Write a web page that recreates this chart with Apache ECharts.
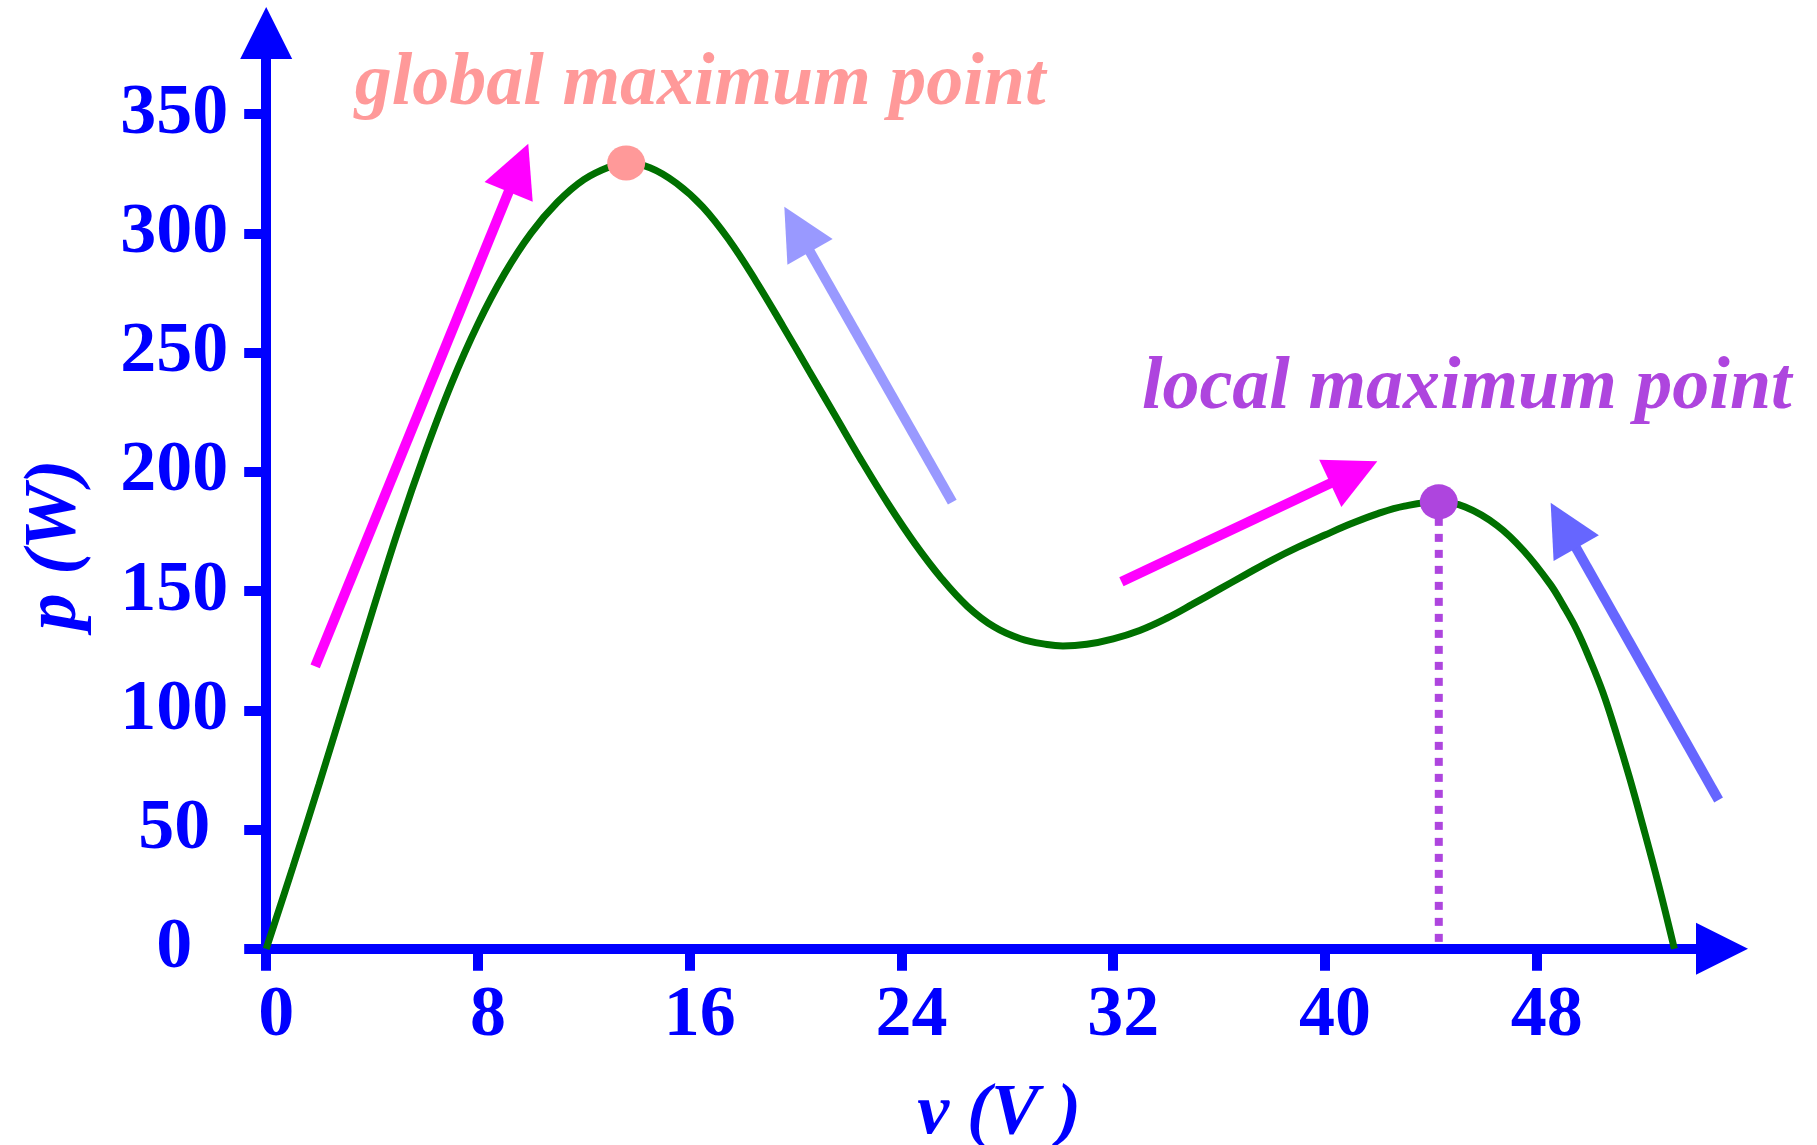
<!DOCTYPE html>
<html>
<head>
<meta charset="utf-8">
<title>P-V curve with global and local maximum</title>
<script src="https://cdn.jsdelivr.net/npm/echarts@6/dist/echarts.min.js"></script>
<style>
  html, body { margin: 0; padding: 0; background: #ffffff; }
  #chart { width: 1817px; height: 1145px; }
</style>
</head>
<body>
<div id="chart"></div>
<script>
// P-V characteristic (voltage in V, power in W)
const voltage = [0, 1, 2, 3, 4, 5, 6, 7, 8, 9, 10, 11, 12, 13, 13.6, 14.5, 15.5, 16.5, 17.5, 18.5,
  19.5, 20.5, 21.5, 22.5, 23.5, 24.5, 25.5, 26.5, 27.5, 28.5, 29.5, 30.1, 31, 32, 33, 34, 35, 36,
  37, 38, 39, 40, 41, 42, 43, 44.3, 45.3, 46.5, 47.5, 48.5, 49, 49.5, 50, 50.5, 51, 51.5, 52, 52.6, 53.2];
const power = [0, 34, 69, 105, 141, 176, 208, 237, 262, 283, 300, 313, 322.5, 328, 329.5, 327.5, 321, 311, 297, 280,
  261.5, 242.5, 223.5, 204.5, 186.5, 170, 155.5, 143.5, 135, 130, 127.6, 127, 127.7, 130, 133.5, 138.5, 144.5, 150.7,
  156.9, 163, 168.5, 173.5, 178.3, 182.5, 185.6, 187.4, 185.2, 177.5, 167, 153, 144, 134, 121.5, 107.5, 90.5, 72, 52, 27, 0];

// axis ticks
const xTicks = [0, 8, 16, 24, 32, 40, 48];
const yTicks = [0, 50, 100, 150, 200, 250, 300, 350];

// maximum power points
const globalMax = [13.6, 329.5];
const localMax = [44.3, 187.4];

// tracking direction arrows: [tail, head]
const arrowClimbGlobal = [[1.85, 118.4], [9.53, 327.5]];
const arrowBackGlobal = [[25.92, 187.3], [20.06, 301.7]];
const arrowClimbLocal = [[32.31, 153.9], [41.09, 199.8]];
const arrowBackLocal = [[54.87, 62.4], [49.01, 177.5]];

const BLUE = '#0000ff';
const SERIF = '"Liberation Serif", "Times New Roman", serif';

const curve = voltage.map((v, i) => [v, power[i]]);

const chart = echarts.init(document.getElementById('chart'), null, { renderer: 'canvas' });

chart.setOption({
  animation: false,
  backgroundColor: '#ffffff',
  grid: { left: 266.2, right: 95, top: 33, bottom: 196.2, outerBoundsMode: 'none' },
  xAxis: {
    type: 'value',
    min: 0,
    max: 55,
    name: 'v (V )',
    nameLocation: 'middle',
    nameGap: 166,
    nameTextStyle: {
      fontFamily: SERIF, fontSize: 72, fontStyle: 'italic', fontWeight: 'bold',
      color: BLUE, align: 'center', verticalAlign: 'middle', padding: [0, 0, 0, 10]
    },
    axisLine: {
      show: true,
      symbol: ['none', 'triangle'],
      symbolSize: [52, 52],
      lineStyle: { color: BLUE, width: 10 }
    },
    axisTick: { show: true, length: 22, customValues: xTicks, lineStyle: { color: BLUE, width: 10 } },
    axisLabel: {
      customValues: xTicks,
      margin: 68,
      verticalAlign: 'middle',
      padding: [0, 0, 0, 20],
      fontFamily: SERIF, fontSize: 72, fontWeight: 'bold', color: BLUE
    },
    splitLine: { show: false }
  },
  yAxis: {
    type: 'value',
    min: 0,
    max: 384,
    name: 'p (W)',
    nameLocation: 'middle',
    nameRotate: 90,
    nameGap: 210,
    nameTextStyle: {
      fontFamily: SERIF, fontSize: 74, fontStyle: 'italic', fontWeight: 'bold',
      color: BLUE, align: 'center', verticalAlign: 'middle', padding: [0, 108, 0, 0]
    },
    axisLine: {
      show: true,
      symbol: ['none', 'triangle'],
      symbolSize: [52, 52],
      lineStyle: { color: BLUE, width: 10 }
    },
    axisTick: { show: true, length: 22, customValues: yTicks, lineStyle: { color: BLUE, width: 10 } },
    axisLabel: {
      customValues: yTicks,
      margin: 92,
      align: 'center',
      fontFamily: SERIF, fontSize: 72, fontWeight: 'bold', color: BLUE
    },
    splitLine: { show: false }
  },
  series: [
    {
      name: 'drop line',
      type: 'line',
      data: [localMax, [localMax[0], 0]],
      showSymbol: false,
      lineStyle: { color: '#ae45de', width: 8, type: [8, 8], cap: 'butt' },
      z: 2
    },
    {
      name: 'P-V curve',
      type: 'line',
      data: curve,
      showSymbol: false,
      smooth: 0.4,
      lineStyle: { color: '#007000', width: 7 },
      z: 3
    },
    {
      name: 'tracking arrows',
      type: 'lines',
      coordinateSystem: 'cartesian2d',
      symbol: ['none', 'triangle'],
      symbolSize: [0, 52],
      lineStyle: { width: 10, opacity: 1, curveness: 0 },
      data: [
        { coords: arrowClimbGlobal, lineStyle: { color: '#ff00ff' } },
        { coords: arrowBackGlobal, lineStyle: { color: '#9999ff' } },
        { coords: arrowClimbLocal, lineStyle: { color: '#ff00ff' } },
        { coords: arrowBackLocal, lineStyle: { color: '#6666ff' } }
      ],
      z: 4
    },
    {
      name: 'global maximum',
      type: 'scatter',
      data: [globalMax],
      symbol: 'circle',
      symbolSize: [38, 35],
      itemStyle: { color: '#ff9999', opacity: 1 },
      label: {
        show: true,
        formatter: 'global maximum point',
        position: 'inside',
        offset: [74, -78],
        opacity: 1,
        fontFamily: SERIF, fontSize: 74, fontStyle: 'italic', fontWeight: 'bold', color: '#ff9999'
      },
      z: 5
    },
    {
      name: 'local maximum',
      type: 'scatter',
      data: [localMax],
      symbol: 'circle',
      symbolSize: [38, 35],
      itemStyle: { color: '#ae45de', opacity: 1 },
      label: {
        show: true,
        formatter: 'local maximum point',
        position: 'inside',
        offset: [28, -113],
        opacity: 1,
        fontFamily: SERIF, fontSize: 74, fontStyle: 'italic', fontWeight: 'bold', color: '#ae45de'
      },
      z: 5
    }
  ]
});
</script>
</body>
</html>
